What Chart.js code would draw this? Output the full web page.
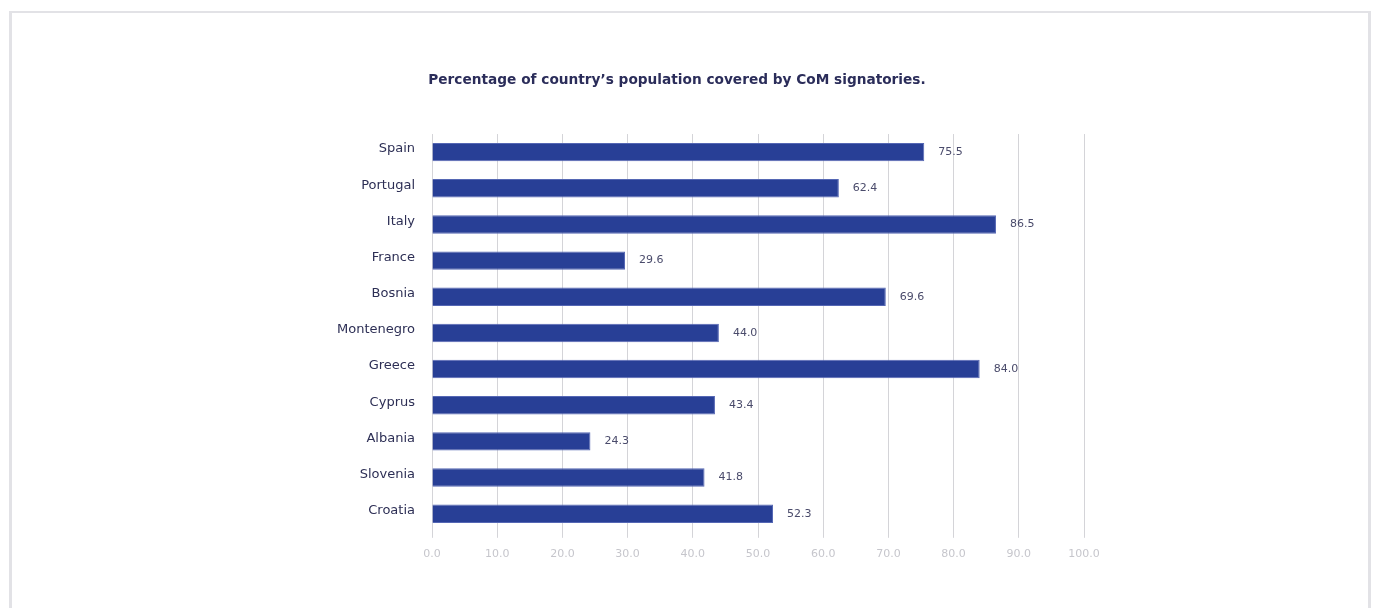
<!DOCTYPE html>
<html>
<head>
<meta charset="utf-8">
<script src="https://cdn.jsdelivr.net/npm/chart.js@4.4.0/dist/chart.umd.min.js"></script>
<style>
  body { margin: 0; background: #fff; }
  #frame { position: absolute; left: 9px; top: 11px; width: 1356px; height: 620px;
           border: 3px solid #e2e2e6; border-top-width: 2px; }
  #chart { position: absolute; left: 0; top: 0; }
</style>
</head>
<body>
<div id="frame"></div>
<canvas id="chart" width="1375" height="608"></canvas>
<script>
var countries = ['Spain', 'Portugal', 'Italy', 'France', 'Bosnia', 'Montenegro', 'Greece', 'Cyprus', 'Albania', 'Slovenia', 'Croatia'];
var coverage = [75.5, 62.4, 86.5, 29.6, 69.6, 44.0, 84.0, 43.4, 24.3, 41.8, 52.3];
var xTicks = [0, 10, 20, 30, 40, 50, 60, 70, 80, 90, 100];

Chart.defaults.font.family = 'DejaVu Sans';

// value text just right of each bar
var valueLabels = {
  id: 'valueLabels',
  afterDatasetsDraw: function(chart) {
    var ctx = chart.ctx;
    var meta = chart.getDatasetMeta(0);
    ctx.save();
    ctx.font = '11px "DejaVu Sans"';
    ctx.fillStyle = '#4a4b6b';
    ctx.textAlign = 'left';
    ctx.textBaseline = 'middle';
    meta.data.forEach(function(bar, i) {
      ctx.fillText(coverage[i].toFixed(1), bar.x + 14, bar.y);
    });
    ctx.restore();
  }
};

new Chart(document.getElementById('chart'), {
  type: 'bar',
  data: {
    labels: countries,
    datasets: [{
      data: coverage,
      backgroundColor: '#283f96',
      borderColor: '#5567b4',
      borderWidth: 1,
      barPercentage: 0.51,
      categoryPercentage: 1
    }]
  },
  options: {
    indexAxis: 'y',
    responsive: false,
    animation: false,
    layout: { padding: { left: 270, right: 291, top: 72, bottom: 37 } },
    plugins: {
      legend: { display: false },
      tooltip: { enabled: false },
      title: {
        display: true,
        text: 'Percentage of country\u2019s population covered by CoM signatories.',
        color: '#2b2d5a',
        font: { size: 13.7, weight: 'bold' },
        padding: { top: 0, bottom: 45.6 }
      }
    },
    scales: {
      x: {
        min: 0,
        max: 100,
        afterBuildTicks: function(scale) {
          scale.ticks = xTicks.map(function(v) { return { value: v }; });
        },
        grid: { color: '#d4d4d8', tickLength: 6 },
        border: { display: false },
        ticks: {
          color: '#c6c6cc',
          font: { size: 11 },
          padding: 10,
          callback: function(v) { return Number(v).toFixed(1); }
        }
      },
      y: {
        grid: { display: false, drawTicks: false },
        border: { display: false },
        afterFit: function(scale) { scale.width = 162; },
        ticks: {
          color: '#2d2f55',
          font: { size: 13 },
          padding: 17,
          labelOffset: -3
        }
      }
    }
  },
  plugins: [valueLabels]
});
</script>
</body>
</html>
